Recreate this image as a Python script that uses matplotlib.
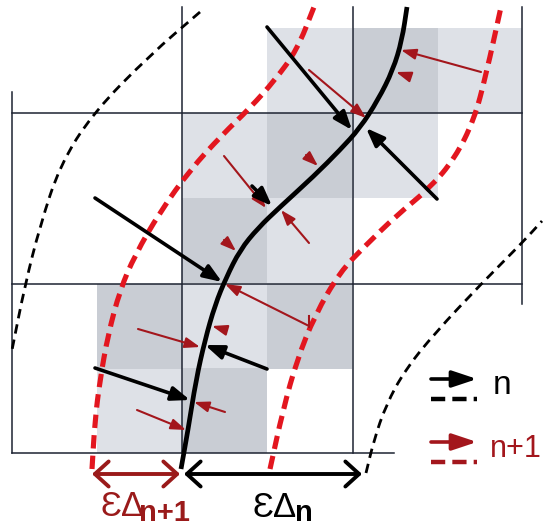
import numpy as np
import matplotlib
matplotlib.use('Agg')
import matplotlib.pyplot as plt
from matplotlib.patches import Rectangle, PathPatch, FancyArrowPatch
from matplotlib.path import Path

plt.rcParams['font.family'] = ['Liberation Sans', 'DejaVu Sans']

# grid (pixel coordinates, y grows downwards)
grid_x = [12, 182, 353, 522]
grid_y = [113, 284, 453]
vline_y0 = [92, 7, 7, 7]
vline_y1 = [453, 453, 453, 304]
hline_x1 = [522, 522, 394]

# shaded sub-cells (left, top), 85 x 85
cell_size = 85.3
light_cells = [(267, 28), (437, 28), (182, 113), (353, 113), (267, 198),
               (182, 284), (97, 368)]
dark_cells = [(353, 28), (267, 113), (182, 198), (97, 284), (267, 284),
              (182, 368)]

# interface at step n (solid black)
front_x = [181, 188, 196, 205, 215, 226, 240, 258, 280, 314, 340, 360, 378, 393, 402, 407]
front_y = [469, 430, 380, 340, 305, 278, 250, 228, 207, 176, 150, 128, 100, 70, 40, 7]

# band n+1 (red dashed)
red_left_x = [92, 95, 100, 108, 120, 135, 160, 190, 222, 250, 275, 297, 314]
red_left_y = [469, 420, 380, 335, 290, 255, 212, 170, 135, 108, 80, 50, 7]
red_right_x = [270, 283, 297, 315, 340, 364, 397, 430, 455, 474, 486, 501]
red_right_y = [469, 410, 360, 315, 272, 247, 215, 188, 158, 120, 75, 7]

# band n (black dashed)
blk_left_x = [200, 150, 93, 60, 40, 25, 12]
blk_left_y = [12, 55, 113, 165, 226, 285, 350]
blk_right_x = [366, 374, 386, 405, 435, 481, 521, 542]
blk_right_y = [473, 440, 405, 370, 333, 284, 244, 221]

# arrows at step n (start -> tip)
black_arrows = [((267, 27), (352, 130)), ((437, 199), (366, 128)),
                ((95, 198), (222, 282)), ((252, 186), (272, 206)),
                ((267, 369), (205, 345)), ((95, 368), (190, 400))]
# arrows at step n+1
red_arrows = [((481, 72), (401, 50)), ((408, 76), (396, 72)),
              ((309, 70), (366, 118)), ((410, 172), (368, 130)),
              ((306, 155), (318, 166)), ((224, 156), (266, 208)),
              ((309, 243), (281, 210)), ((224, 240), (236, 251)),
              ((309, 326), (225, 284)), ((226, 330), (212, 326)),
              ((138, 329), (200, 347)), ((225, 412), (194, 402)),
              ((137, 410), (186, 430))]

C_RED = '#e3161f'
C_DRED = '#a3161c'
C_TXT = '#9a1a1a'
C_GRID = '#1d2332'


def smooth_path(xs, ys):
    pts = list(zip(xs, ys))
    verts = [pts[0], ((pts[0][0] + pts[1][0]) / 2, (pts[0][1] + pts[1][1]) / 2)]
    codes = [Path.MOVETO, Path.LINETO]
    for i in range(1, len(pts) - 1):
        mid = ((pts[i][0] + pts[i + 1][0]) / 2, (pts[i][1] + pts[i + 1][1]) / 2)
        verts += [pts[i], mid]
        codes += [Path.CURVE3, Path.CURVE3]
    verts.append(pts[-1])
    codes.append(Path.LINETO)
    return Path(verts, codes)


fig = plt.figure(figsize=(5.47, 5.28), dpi=100)
ax = fig.add_axes([0, 0, 1, 1])
ax.set_xlim(0, 547)
ax.set_ylim(528, 0)
ax.axis('off')

for (cx, cy) in light_cells:
    ax.add_patch(Rectangle((cx, cy), cell_size, cell_size, color='#dee1e7', lw=0, zorder=0))
for (cx, cy) in dark_cells:
    ax.add_patch(Rectangle((cx, cy), cell_size, cell_size, color='#c9cdd4', lw=0, zorder=0))

for x, y0, y1 in zip(grid_x, vline_y0, vline_y1):
    ax.plot([x, x], [y0, y1], color=C_GRID, lw=1.1, zorder=1)
for y, x1 in zip(grid_y, hline_x1):
    ax.plot([12, x1], [y, y], color=C_GRID, lw=1.1, zorder=1)

# dashed bands
for xs, ys in [(red_left_x, red_left_y), (red_right_x, red_right_y)]:
    ax.add_patch(PathPatch(smooth_path(xs, ys), fill=False, ec=C_RED, lw=3.7,
                           ls=(0, (2.6, 1.4)), capstyle='butt', zorder=2))
for xs, ys in [(blk_left_x, blk_left_y), (blk_right_x, blk_right_y)]:
    ax.add_patch(PathPatch(smooth_path(xs, ys), fill=False, ec='black', lw=2.0,
                           ls=(0, (3.4, 2.2)), capstyle='butt', zorder=2))

# front
ax.add_patch(PathPatch(smooth_path(front_x, front_y), fill=False, ec='black',
                       lw=3.4, capstyle='butt', zorder=3))

for p0, p1 in red_arrows:
    ax.add_patch(FancyArrowPatch(p0, p1, arrowstyle='-|>,head_length=0.9,head_width=0.32',
                                 mutation_scale=10, lw=1.5, color=C_DRED,
                                 shrinkA=0, shrinkB=0, zorder=4))
# little tick at the end of one red arrow
ax.plot([309, 309], [316, 327], color=C_DRED, lw=1.5, zorder=4)

for p0, p1 in black_arrows:
    ax.add_patch(FancyArrowPatch(p0, p1, arrowstyle='-|>,head_length=1.1,head_width=0.42',
                                 mutation_scale=10, lw=2.6, color='black',
                                 shrinkA=0, shrinkB=0, zorder=5))

# width annotations
ax.add_patch(FancyArrowPatch((92, 474), (180, 474), arrowstyle='<->,head_length=0.55,head_width=0.5',
                             mutation_scale=18, lw=2.8, color=C_TXT,
                             shrinkA=0, shrinkB=0, zorder=5))
ax.add_patch(FancyArrowPatch((184, 474), (362, 474), arrowstyle='<->,head_length=0.55,head_width=0.5',
                             mutation_scale=18, lw=2.8, color='black',
                             shrinkA=0, shrinkB=0, zorder=5))
ax.text(100, 516, 'ƐΔ', fontsize=25, color=C_TXT, ha='left', va='baseline')
ax.text(139, 527, 'n+1', fontsize=21, fontweight='bold', color=C_TXT, ha='left', va='bottom')
ax.text(252, 517, 'ƐΔ', fontsize=25, color='black', ha='left', va='baseline')
ax.text(295, 527, 'n', fontsize=21, fontweight='bold', color='black', ha='left', va='bottom')

# legend
ax.add_patch(FancyArrowPatch((431, 379), (477, 379), arrowstyle='-|>,head_length=1.5,head_width=0.5',
                             mutation_scale=10, lw=2.6, color='black',
                             shrinkA=0, shrinkB=0, zorder=5))
ax.plot([431, 477], [399, 399], color='black', lw=3.2, ls=(0, (3.2, 1.6)),
        solid_capstyle='butt', dash_capstyle='butt', zorder=5)
ax.text(493, 394, 'n', fontsize=24, color='black', ha='left', va='baseline')
ax.add_patch(FancyArrowPatch((431, 442), (477, 442), arrowstyle='-|>,head_length=1.5,head_width=0.5',
                             mutation_scale=10, lw=2.6, color=C_DRED,
                             shrinkA=0, shrinkB=0, zorder=5))
ax.plot([431, 477], [462, 462], color=C_DRED, lw=3.2, ls=(0, (3.2, 1.6)),
        solid_capstyle='butt', dash_capstyle='butt', zorder=5)
ax.text(490, 457, 'n+1', fontsize=22, color=C_DRED, ha='left', va='baseline')

fig.savefig('out.png', dpi=100)
